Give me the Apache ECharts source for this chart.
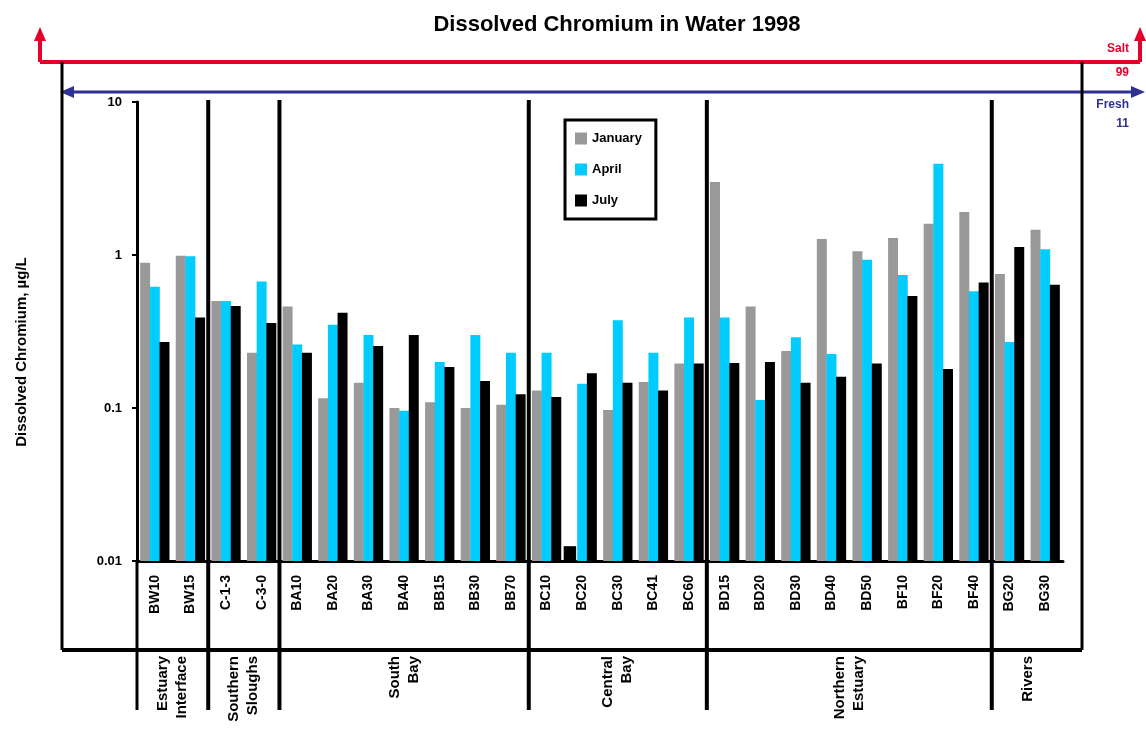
<!DOCTYPE html>
<html>
<head>
<meta charset="utf-8">
<script src="https://cdn.jsdelivr.net/npm/echarts@6/dist/echarts.min.js"></script>
<style>
  html, body { margin: 0; padding: 0; background: #fff; }
  #main { width: 1146px; height: 736px; }
</style>
</head>
<body>
<div id="main"></div>
<script>
// stations, in the order of the picture
var stations = ['BW10', 'BW15', 'C-1-3', 'C-3-0', 'BA10', 'BA20', 'BA30', 'BA40', 'BB15', 'BB30', 'BB70',
  'BC10', 'BC20', 'BC30', 'BC41', 'BC60', 'BD15', 'BD20', 'BD30', 'BD40', 'BD50', 'BF10', 'BF20', 'BF40',
  'BG20', 'BG30']
var groupNames = ['Estuary\nInterface', 'Southern\nSloughs', 'South\nBay', 'Central\nBay', 'Northern\nEstuary', 'Rivers']
var groupSizes = [2, 2, 7, 5, 8, 2]

// dissolved chromium, ug/L
var january = [0.89, 0.99, 0.50, 0.23, 0.46, 0.116, 0.146, 0.10, 0.109, 0.10, 0.105,
  0.13, 0.0125, 0.097, 0.148, 0.195, 3.0, 0.46, 0.236, 1.27, 1.06, 1.29, 1.6, 1.91, 0.75, 1.46]
var april = [0.62, 0.98, 0.50, 0.67, 0.26, 0.35, 0.30, 0.096, 0.20, 0.30, 0.23,
  0.23, 0.144, 0.375, 0.23, 0.39, 0.39, 0.113, 0.29, 0.225, 0.93, 0.74, 3.95, 0.58, 0.27, 1.09]
var july = [0.27, 0.39, 0.465, 0.36, 0.23, 0.42, 0.254, 0.30, 0.185, 0.15, 0.123,
  0.118, 0.169, 0.146, 0.13, 0.195, 0.197, 0.20, 0.146, 0.16, 0.195, 0.54, 0.18, 0.66, 1.13, 0.64]
var ndStation = 'BC20' // the small black mark
var yMin = 0.01
var yMax = 10

var GRID_L = 137, GRID_T = 102, GRID_W = 926, GRID_H = 459
var FONT = '"Liberation Sans", Arial, sans-serif'
var RED = '#e3002b'
var BLUE = '#2e3192'

var chart = echarts.init(document.getElementById('main'))

function barSeries(name, data, color, slot) {
  return {
    name: name,
    type: 'custom',
    itemStyle: { color: color },
    encode: { x: 0, y: 1 },
    data: data.map(function (v, i) {
      if (name === 'January' && stations[i] === ndStation) {
        return { value: [i, v], itemStyle: { color: '#000' } }
      }
      return [i, v]
    }),
    renderItem: function (params, api) {
      var top = api.coord([api.value(0), api.value(1)])
      var base = api.coord([api.value(0), yMin])
      var band = api.size([1, 0])[0]
      var w = band * 0.28
      var x = top[0] + (slot - 1) * w * 0.97 - w / 2
      if (name === 'January' && stations[api.value(0)] === ndStation) {
        w = band * 0.35
        x = top[0] - band * 0.52
      }
      return {
        type: 'rect',
        shape: { x: x, y: top[1], width: w, height: base[1] - top[1] },
        style: { fill: api.visual('color') }
      }
    }
  }
}

// decoration: arrows, frame and group separators
var band = GRID_W / stations.length
var graphics = []
function line(x1, y1, x2, y2, color, w) {
  graphics.push({ type: 'line', shape: { x1: x1, y1: y1, x2: x2, y2: y2 }, style: { stroke: color, lineWidth: w }, z: 10 })
}
function tri(points, color) {
  graphics.push({ type: 'polygon', shape: { points: points }, style: { fill: color }, z: 10 })
}
function text(t, x, y, opt) {
  graphics.push({
    type: 'text', x: x, y: y, rotation: opt.rotation || 0, z: 10,
    style: {
      text: t, fill: opt.color || '#000', font: opt.font, align: opt.align || 'center',
      verticalAlign: opt.verticalAlign || 'middle', lineHeight: opt.lineHeight
    }
  })
}

// salt (red) and fresh (blue) arrows
line(40, 62, 1140, 62, RED, 4)
line(40, 62, 40, 36, RED, 4)
line(1140, 62, 1140, 36, RED, 4)
tri([[34, 41], [46, 41], [40, 27]], RED)
tri([[1134, 41], [1146, 41], [1140, 27]], RED)
line(70, 92, 1134, 92, BLUE, 3)
tri([[60, 92], [74, 86], [74, 98]], BLUE)
tri([[1145, 92], [1131, 86], [1131, 98]], BLUE)
text('Salt', 1129, 49, { color: RED, font: 'bold 12px ' + FONT, align: 'right' })
text('99', 1129, 73, { color: RED, font: 'bold 12px ' + FONT, align: 'right' })
text('Fresh', 1129, 105, { color: BLUE, font: 'bold 12px ' + FONT, align: 'right' })
text('11', 1129, 124, { color: BLUE, font: 'bold 12px ' + FONT, align: 'right' })

// frame
line(62, 62, 62, 650, '#000', 3)
line(1082, 62, 1082, 650, '#000', 3)
line(62, 650, 1082, 650, '#000', 4)

// group separators and labels
var start = 0
line(GRID_L, GRID_T + GRID_H, GRID_L, 710, '#000', 3)
groupSizes.forEach(function (n, g) {
  var cx = GRID_L + (start + n / 2) * band
  text(groupNames[g], cx, 656, {
    font: 'bold 15px ' + FONT, align: 'right', rotation: Math.PI / 2, lineHeight: 19
  })
  start += n
  if (start < stations.length) {
    var sx = GRID_L + start * band
    line(sx, GRID_T - 2, sx, 710, '#000', 4)
  }
})

// y axis title
text('Dissolved Chromium, \u00b5g/L', 22, 352, { font: 'bold 15px ' + FONT, rotation: Math.PI / 2 })

chart.setOption({
  animation: false,
  textStyle: { fontFamily: FONT },
  title: {
    text: 'Dissolved Chromium in Water 1998',
    left: 612,
    textAlign: 'center',
    top: 9,
    textStyle: { fontSize: 22, fontWeight: 'bold', color: '#000', fontFamily: FONT }
  },
  legend: {
    data: ['January', 'April', 'July'],
    orient: 'vertical',
    left: 565,
    top: 120,
    padding: [12, 14, 12, 10],
    itemGap: 18,
    itemWidth: 12,
    itemHeight: 12,
    icon: 'rect',
    borderColor: '#000',
    borderWidth: 3,
    textStyle: { fontWeight: 'bold', fontSize: 13, color: '#000' }
  },
  grid: { left: GRID_L, top: GRID_T, width: GRID_W, height: GRID_H },
  xAxis: {
    type: 'category',
    data: stations,
    axisLine: { lineStyle: { color: '#000', width: 3 } },
    axisTick: { length: 5, interval: 0, lineStyle: { color: '#000', width: 2 } },
    axisLabel: { rotate: 90, interval: 0, fontWeight: 'bold', fontSize: 14, color: '#000', margin: 14 }
  },
  yAxis: {
    type: 'log',
    logBase: 10,
    min: yMin,
    max: yMax,
    axisLine: { show: true, lineStyle: { color: '#000', width: 3 } },
    axisTick: { show: true, length: 5, lineStyle: { color: '#000', width: 2 } },
    splitLine: { show: false },
    axisLabel: {
      fontWeight: 'bold', fontSize: 13, color: '#000', margin: 15,
      formatter: function (v) { return String(+v.toPrecision(2)) }
    }
  },
  series: [
    barSeries('January', january, '#999999', 0),
    barSeries('April', april, '#00ccff', 1),
    barSeries('July', july, '#000000', 2)
  ],
  graphic: graphics
})
</script>
</body>
</html>
